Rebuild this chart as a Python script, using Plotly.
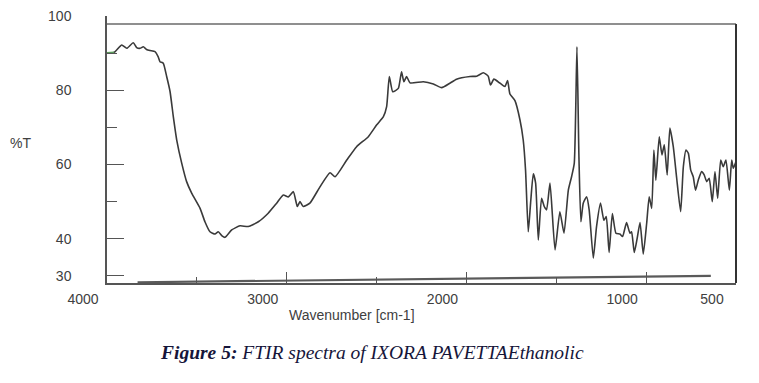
import plotly.graph_objects as go

# Spectrum (wavenumber cm-1, %T)
wavenumber = [4000, 3960, 3918, 3890, 3854, 3835, 3816, 3798, 3780, 3761, 3733, 3715, 3705, 3687,
              3668, 3649, 3631, 3612, 3584, 3557, 3529, 3482, 3455, 3427, 3399, 3381, 3360, 3343,
              3306, 3260, 3214, 3158, 3103, 3056, 3019, 2991, 2963, 2941, 2926, 2908, 2871, 2815,
              2759, 2731, 2666, 2611, 2546, 2499, 2462, 2444, 2429, 2410, 2379, 2361, 2348, 2333,
              2314, 2240, 2184, 2138, 2092, 2055, 1980, 1943, 1906, 1879, 1866, 1847, 1813, 1786,
              1771, 1758, 1730, 1702, 1684, 1671, 1656, 1643, 1628, 1615, 1600, 1582, 1567, 1554,
              1535, 1507, 1480, 1457, 1433, 1415, 1400, 1385, 1374, 1363, 1350, 1331, 1317, 1294,
              1276, 1254, 1235, 1222, 1206, 1188, 1168, 1146, 1131, 1109, 1090, 1081, 1066, 1050,
              1034, 1016, 997, 983, 969, 957, 946, 927, 912, 899, 883, 868, 849, 830, 808, 793,
              778, 765, 752, 738, 725, 710, 691, 677, 663, 649, 632, 617, 602, 585, 571, 556,
              537, 524, 515, 500]
transmittance = [90.1, 90.2, 92.2, 91.3, 92.8, 91.5, 91.3, 91.7, 91.0, 90.7, 90.4, 89.0, 87.7, 87.3,
                 83.7, 79.6, 72.9, 66.6, 60.3, 55.4, 52.3, 48.2, 44.6, 41.9, 41.3, 41.9, 40.8, 40.4,
                 42.4, 43.5, 43.3, 44.6, 46.9, 49.6, 51.8, 51.3, 52.7, 48.7, 50.0, 48.7, 49.6, 54.0,
                 57.8, 56.7, 61.2, 64.8, 67.5, 70.7, 72.9, 75.6, 83.7, 79.6, 80.5, 85.0, 82.3, 83.7,
                 82.0, 82.3, 81.7, 80.7, 81.9, 83.0, 83.7, 83.8, 84.7, 83.8, 81.4, 83.0, 81.9, 81.0,
                 82.6, 79.0, 77.2, 72.0, 66.6, 58.5, 41.9, 49.6, 57.5, 55.0, 39.7, 50.9, 48.7, 47.8,
                 55.0, 37.0, 47.3, 41.5, 53.1, 56.7, 60.3, 91.7, 62.1, 44.6, 49.6, 51.3, 47.8, 34.8,
                 43.3, 49.6, 45.0, 46.0, 36.3, 46.8, 41.5, 41.3, 40.6, 44.4, 41.5, 41.9, 36.3, 40.1,
                 44.4, 35.9, 44.2, 51.3, 48.2, 63.9, 55.8, 67.5, 62.6, 65.3, 57.2, 69.8, 64.8, 56.3,
                 47.3, 59.4, 63.9, 63.0, 58.5, 56.7, 53.1, 55.8, 58.1, 57.2, 55.4, 56.3, 50.0, 58.1,
                 50.9, 61.2, 59.4, 61.2, 53.1, 61.2, 59.0, 60.8]

# Sloped baseline drawn under the spectrum
baseline_x = [3830, 640]
baseline_y = [28.3, 30.0]

x_tickvals = [4000, 3000, 2000, 1000, 500]
x_ticktext = ["4000", "3000", "2000", "1000", "500"]
x_minor_ticks = [3500, 2500, 1500]
y_tickvals = [30, 40, 60, 80, 100]
y_ticktext = ["30", "40", "60", "80", "100"]
y_minor_ticks = [50, 70, 90]

Y_MIN, Y_MAX = 28.1, 100
FRAME_TOP = 97.85

txt = "#404040"
axc = "#555555"
font = "Liberation Sans, Arial, sans-serif"

fig = go.Figure()
fig.add_trace(go.Scatter(x=baseline_x, y=baseline_y, mode="lines", yaxis="y2",
                         line=dict(color="#5a5a5a", width=2.2), hoverinfo="skip"))
fig.add_trace(go.Scatter(x=wavenumber, y=transmittance, mode="lines",
                         line=dict(color="#3a3a3a", width=1.6, shape="spline", smoothing=0.5)))
fig.add_trace(go.Scatter(x=wavenumber[:2], y=transmittance[:2], mode="lines",
                         line=dict(color="#5a9a5a", width=1.6)))

fig.update_layout(
    width=751, height=375,
    margin=dict(l=99, r=23, t=8, b=100, autoexpand=False),
    paper_bgcolor="white", plot_bgcolor="white",
    showlegend=False,
    font=dict(family=font, size=14, color=txt),
    xaxis=dict(range=[4000, 500], showgrid=False, zeroline=False, automargin=False,
               showline=True, linecolor=axc, linewidth=1.5,
               ticks="inside", ticklen=11, tickwidth=1.2, tickcolor=axc,
               tickmode="array", tickvals=x_tickvals, ticktext=x_ticktext,
               ticklabelshift=24, ticklabelstandoff=2, ticklabeloverflow="allow",
               minor=dict(tickmode="array", tickvals=x_minor_ticks, ticks="inside",
                          ticklen=6, tickwidth=1.2, tickcolor=axc, showgrid=False),
               tickfont=dict(family=font, size=14, color=txt)),
    # labels axis: transparent outside ticks push the labels away from the axis line
    yaxis=dict(range=[Y_MIN, Y_MAX], showgrid=False, zeroline=False, automargin=False,
               showline=True, linecolor=axc, linewidth=1.5,
               ticks="outside", ticklen=31, tickcolor="rgba(0,0,0,0)",
               tickmode="array", tickvals=y_tickvals, ticktext=y_ticktext,
               ticklabeloverflow="allow",
               tickfont=dict(family=font, size=14, color=txt)),
    # marks axis: inside ticks, no labels
    yaxis2=dict(range=[Y_MIN, Y_MAX], overlaying="y", side="left", anchor="x",
                showgrid=False, zeroline=False, automargin=False, showline=False,
                ticks="inside", ticklen=17, tickwidth=1.2, tickcolor=axc,
                tickmode="array", tickvals=y_tickvals, showticklabels=False,
                minor=dict(tickmode="array", tickvals=y_minor_ticks, ticks="inside",
                           ticklen=10, tickwidth=1.2, tickcolor=axc, showgrid=False)),
    shapes=[
        dict(type="line", xref="paper", yref="y", x0=0, x1=1, y0=FRAME_TOP, y1=FRAME_TOP,
             line=dict(color="#6a6a6a", width=1.5)),
        dict(type="line", xref="paper", yref="y", x0=1, x1=1, y0=Y_MIN, y1=FRAME_TOP,
             line=dict(color="#333333", width=2)),
    ],
    annotations=[
        dict(text="%T", xref="paper", yref="paper", x=-99 / 629, y=0.524, showarrow=False,
             xanchor="left", yanchor="middle", font=dict(family=font, size=14, color=txt)),
        dict(text="Wavenumber [cm-1]", xref="paper", yref="paper", x=(352 - 107) / 629,
             y=-32 / 267, showarrow=False, xanchor="center", yanchor="middle",
             font=dict(family=font, size=14, color=txt)),
        dict(text="<b><i>Figure 5:</i></b><i> FTIR spectra of IXORA PAVETTAEthanolic</i>",
             xref="paper", yref="paper", x=(372 - 107) / 629, y=-69 / 267, showarrow=False,
             xanchor="center", yanchor="middle",
             font=dict(family="Liberation Serif, Times New Roman, serif", size=19.5,
                       color="#15153a")),
    ],
)

fig.write_html("out.html")
